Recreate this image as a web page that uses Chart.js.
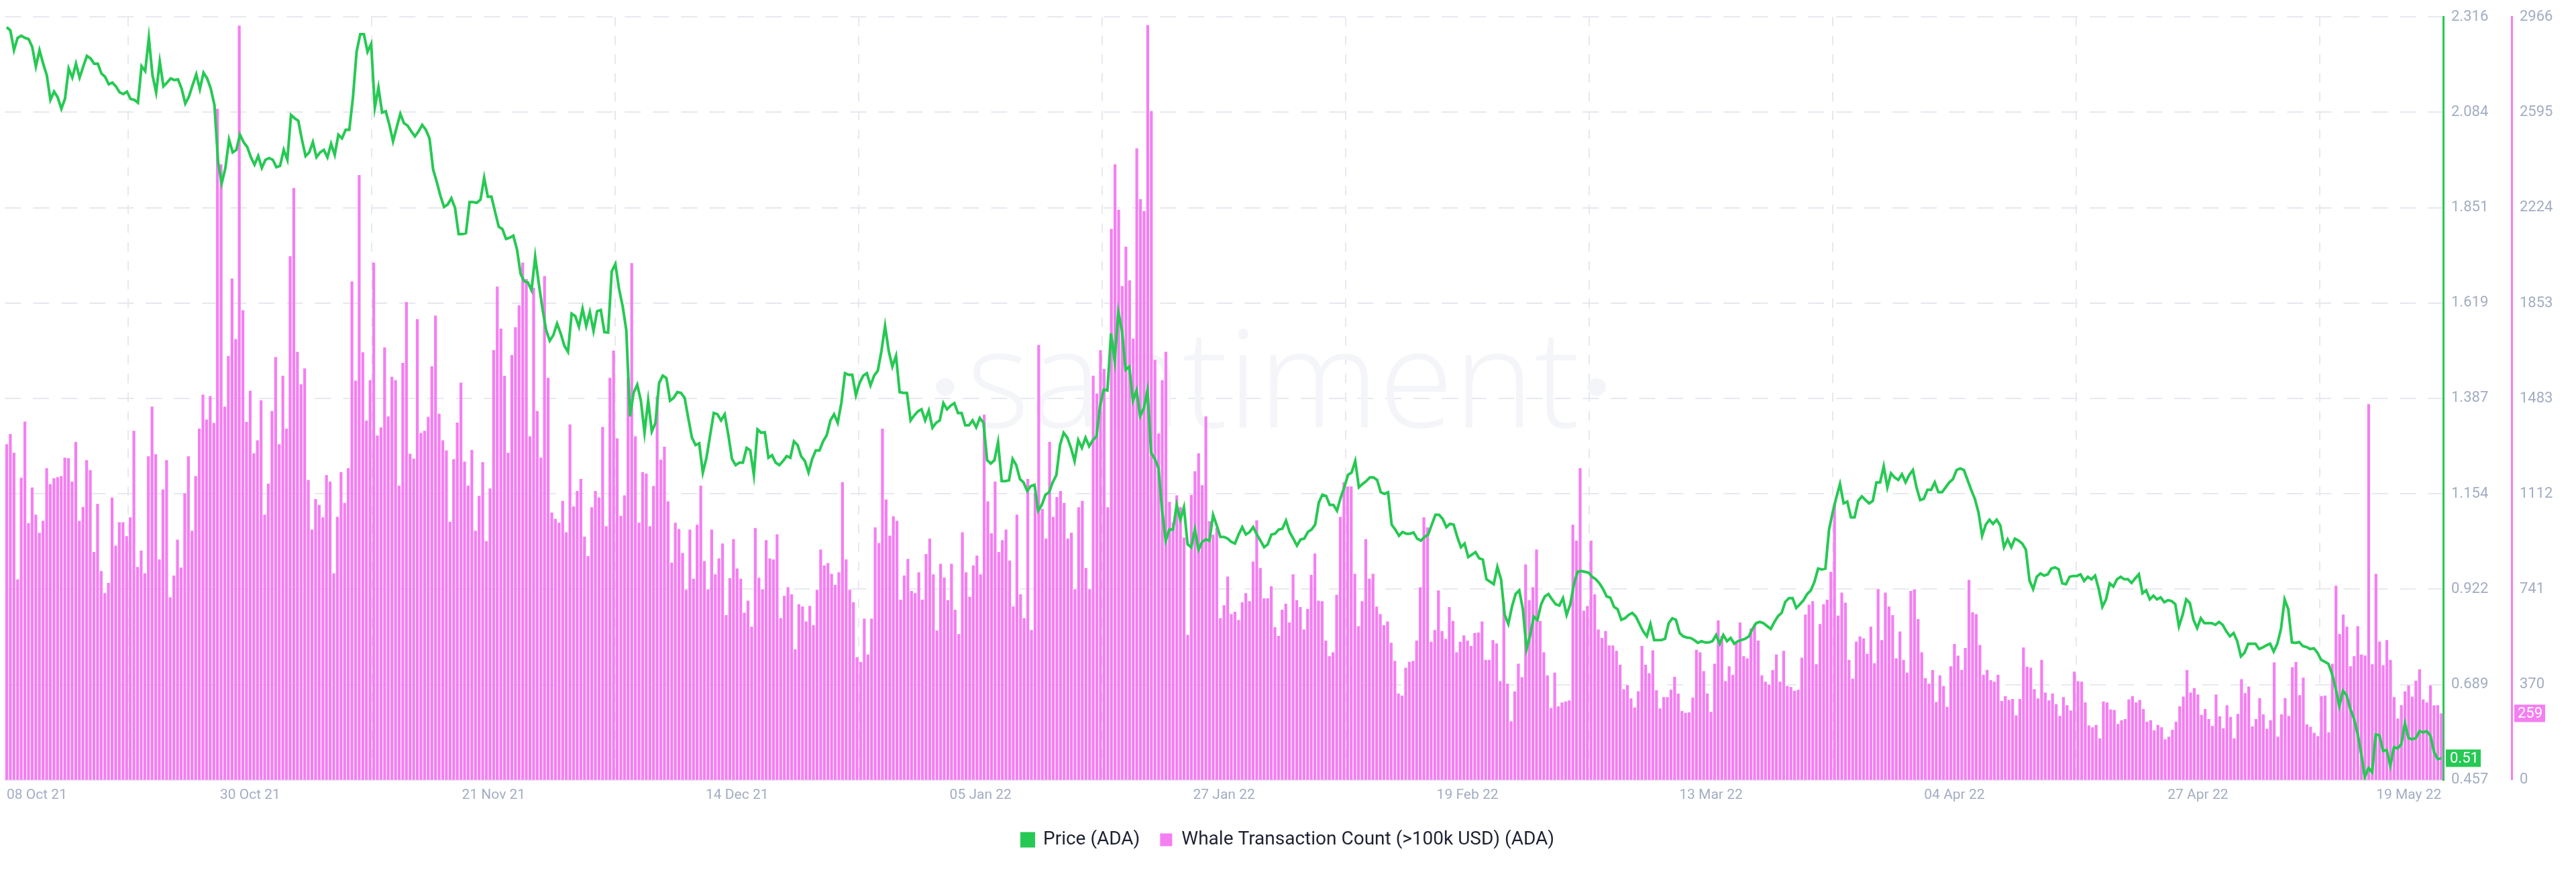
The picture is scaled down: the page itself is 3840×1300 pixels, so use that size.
<!DOCTYPE html>
<html><head><meta charset="utf-8">
<script src="https://cdn.jsdelivr.net/npm/chart.js@4"></script>
<style>html,body{margin:0;background:#fff}#wrap{width:3840px;height:1300px}</style>
</head><body><div id="wrap"><canvas id="c" width="3840" height="1300"></canvas></div>
<script>
const xTickLabels=["08 Oct 21","30 Oct 21","21 Nov 21","14 Dec 21","05 Jan 22","27 Jan 22","19 Feb 22","13 Mar 22","04 Apr 22","27 Apr 22","19 May 22"];
const priceTicks=[0.457,0.689,0.922,1.154,1.387,1.619,1.851,2.084,2.316];
const countTicks=[0,370,741,1112,1483,1853,2224,2595,2966];

const whaleA=[1305,1345,1272,780,1175,1393,998,1137,1031,961,1007,1212,1150,1173,1177,1181,1253,1251,1160,1314,1007,1061,1243,1204,886,1073,812,726,766,1098,911,1002,1002,948,1021,1357,828,892,803,1258,1451,1266,857,1129,1243,710,795,934,826,1114,1258,969,1181,1366,1498,1401,1492,1388,2609,2393,1451,1648,1949,1714,2932,1826,1392,1513,1270,1320,1476,1031,1152,1434,1644,1305,1571,1366,2036,2301,1664,1538,1600,1166,973,1092,1069,1021,1185,1160,803,1023,1197,1077,1212,1938,1552,2351,1662,1397,1554,2011,1339,1370,1681,1413,1567,1554,1144,1621,1858,1268,1249,1791,1349,1357,1411,1608,1805,1424,1320,1281,1004,1247,1389,1544,1237,1144,1283,969,1104,1235,928,1133,1671,1918,1754,1571];
const whaleB=[1272,1652,1760,1845,2011,1947,1336,1913,1434,1253,1959,1563,1040,1015,1000,1085,963,1382,1063,1123,1170,946,870,1060,1123,1098,1372,986,1563,1669,1328,1027,1106,1563,2009,1336,1000,1197,1191,986,1143,1492,1245,1295,1083,845,1000,975,882,739,973,782,992,1144,851,741,973,799,861,919,641,784,936,822,782,650,697,596,979,786,741,932,861,857,955,629,716,749,722,508,683,674,616,677,602,739,896,834,843,801,758,807,1158,857,739,691,477,459,627,488,627,982,921,1366,1090,950,1025,1007,701,795,859,735,726,807,701,878,938,799,581,840,787,699,840,662,567,963,807,712,834,872,799,1420,1083,959,1160,886,932,973];
const whaleC=[853,674,1031,722,629,1170,583,1114,1691,1054,938,1314,1023,1100,1123,1077,938,961,741,1060,1085,824,741,1571,1502,1671,1598,1060,2142,2393,2216,1920,2073,1942,1716,2455,2258,2212,2934,2600,1633,1347,1554,1664,1081,1000,1106,1061,942,564,1108,1200,1270,1146,1413,1006,953,980,629,679,791,645,654,622,691,726,695,849,1009,824,706,706,753,594,560,662,685,612,799,699,672,585,664,797,880,697,695,542,481,496,720,1023,1158,1141,1141,801,598,695,936,782,801,674,645,602,616,533,463,336,328,436,459,463,542,749,1021,982,537,583,737,579,548,672,618,496,537,562,542,521,571,573,616,467,467,544,531,384,691,374,228];
const whaleD=[344,452,400,838,699,749,896,618,496,407,280,417,286,301,305,309,992,930,1212,658,676,930,722,585,552,579,523,523,502,448,353,369,317,282,345,521,448,415,504,349,278,322,322,351,401,336,268,261,263,320,506,496,423,336,265,452,620,560,384,442,409,533,612,481,473,589,606,542,407,382,371,427,488,382,502,365,361,347,351,475,643,681,695,450,606,683,701,809,1077,639,728,689,467,394,538,558,550,490,596,454,741,544,728,674,641,473,577,467,417,735,741,625,496,396,374,427,303,407,365,284,442,529,483,428,513,778,652,645,525,409,428,388,382,409,307,326,311,315,251];
const whaleE=[315,515,440,436,353,317,467,340,309,336,295,249,322,291,270,421,384,382,301,212,205,214,162,305,301,274,272,218,232,237,313,326,301,311,276,226,232,193,214,205,158,168,195,226,286,324,427,340,357,332,253,276,237,210,332,247,201,290,245,162,257,392,338,363,208,237,318,255,199,232,457,168,255,318,249,438,459,330,398,216,207,183,170,326,328,185,452,755,567,643,596,442,481,598,488,484,1461,450,801,538,446,544,467,322,239,291,344,367,324,386,430,313,301,367,290,291,259];

const priceA=[2.291,2.283,2.235,2.265,2.270,2.265,2.262,2.243,2.195,2.235,2.202,2.174,2.114,2.134,2.120,2.092,2.117,2.190,2.168,2.202,2.168,2.195,2.221,2.215,2.202,2.202,2.178,2.170,2.152,2.156,2.146,2.132,2.128,2.134,2.116,2.114,2.107,2.196,2.184,2.265,2.174,2.132,2.207,2.147,2.156,2.166,2.162,2.164,2.141,2.105,2.122,2.150,2.176,2.140,2.180,2.166,2.141,2.101,1.962,1.911,1.948,2.017,1.986,1.992,2.029,2.011,1.999,1.974,1.956,1.977,1.948,1.968,1.972,1.968,1.950,1.953,1.992,1.968,2.077,2.069,2.063,2.017,1.977,1.986,2.011,1.974,1.986,1.992,1.974,2.007,1.980,2.029,2.020,2.041,2.041,2.120,2.231,2.274,2.274,2.231,2.250,2.095,2.144,2.083,2.086,2.053,2.013,2.047,2.080,2.057,2.051,2.037,2.025,2.037,2.053,2.041,2.020,1.944,1.914,1.880,1.853,1.859,1.874,1.851,1.787,1.787,1.789,1.865,1.865,1.863,1.871,1.924,1.878,1.878,1.841,1.805,1.799,1.775];
const priceB=[1.778,1.783,1.750,1.690,1.672,1.669,1.650,1.732,1.666,1.605,1.553,1.527,1.541,1.569,1.545,1.515,1.500,1.593,1.587,1.561,1.605,1.563,1.597,1.551,1.599,1.602,1.548,1.547,1.696,1.714,1.654,1.611,1.553,1.343,1.400,1.420,1.381,1.303,1.381,1.306,1.327,1.424,1.442,1.436,1.381,1.388,1.402,1.400,1.388,1.339,1.291,1.273,1.277,1.206,1.242,1.297,1.351,1.348,1.333,1.348,1.297,1.239,1.224,1.230,1.230,1.266,1.260,1.200,1.311,1.303,1.304,1.242,1.248,1.230,1.224,1.234,1.246,1.242,1.282,1.273,1.245,1.234,1.206,1.239,1.260,1.260,1.282,1.297,1.333,1.348,1.327,1.375,1.448,1.444,1.444,1.394,1.424,1.442,1.448,1.418,1.442,1.454,1.502,1.563,1.502,1.464,1.490,1.402,1.400,1.400,1.333,1.345,1.355,1.360,1.333,1.357,1.315,1.327,1.333,1.375,1.360,1.369,1.375,1.351,1.351,1.321,1.321,1.333,1.316,1.339,1.327,1.236,1.228,1.236,1.280,1.185,1.185,1.187];
const priceC=[1.239,1.224,1.190,1.182,1.161,1.173,1.176,1.113,1.127,1.152,1.158,1.182,1.200,1.273,1.303,1.291,1.266,1.234,1.285,1.266,1.291,1.270,1.285,1.294,1.369,1.408,1.406,1.545,1.478,1.597,1.551,1.456,1.464,1.381,1.406,1.343,1.363,1.406,1.254,1.239,1.218,1.115,1.040,1.067,1.067,1.127,1.091,1.121,1.031,1.024,1.067,1.018,1.037,1.043,1.040,1.103,1.077,1.049,1.049,1.045,1.037,1.033,1.055,1.073,1.055,1.061,1.073,1.055,1.040,1.024,1.031,1.055,1.057,1.067,1.069,1.089,1.061,1.045,1.028,1.043,1.045,1.061,1.067,1.079,1.133,1.152,1.149,1.127,1.127,1.113,1.145,1.170,1.200,1.206,1.234,1.170,1.178,1.185,1.194,1.194,1.188,1.158,1.154,1.158,1.079,1.067,1.052,1.061,1.057,1.057,1.060,1.045,1.040,1.049,1.055,1.079,1.103,1.103,1.093,1.073,1.081,1.079,1.049,1.024,1.033,1.000,1.006,1.012,0.997,0.994,0.946,0.940,0.934,0.976,0.946,0.859,0.837,0.879];
const priceD=[0.910,0.919,0.873,0.776,0.810,0.855,0.847,0.885,0.904,0.910,0.897,0.885,0.882,0.900,0.859,0.885,0.934,0.964,0.966,0.964,0.962,0.952,0.946,0.936,0.922,0.904,0.901,0.879,0.873,0.847,0.851,0.859,0.864,0.855,0.837,0.819,0.807,0.837,0.798,0.798,0.798,0.801,0.839,0.851,0.847,0.815,0.807,0.804,0.803,0.798,0.791,0.795,0.792,0.792,0.795,0.810,0.789,0.810,0.795,0.803,0.789,0.795,0.798,0.801,0.807,0.825,0.839,0.842,0.839,0.832,0.825,0.842,0.856,0.864,0.891,0.900,0.900,0.876,0.885,0.895,0.910,0.919,0.940,0.972,0.970,0.972,1.067,1.109,1.145,1.178,1.131,1.135,1.097,1.097,1.137,1.148,1.139,1.131,1.137,1.182,1.182,1.221,1.170,1.204,1.194,1.188,1.202,1.182,1.200,1.212,1.170,1.139,1.142,1.164,1.164,1.182,1.158,1.158,1.170,1.182,1.190,1.212,1.216,1.212,1.188,1.164,1.142,1.109,1.052,1.079,1.091,1.081,1.091,1.077,1.024,1.043,1.024,1.045];
const priceE=[1.040,1.033,1.018,0.943,0.922,0.952,0.960,0.955,0.958,0.972,0.975,0.970,0.936,0.934,0.952,0.954,0.954,0.958,0.942,0.952,0.946,0.955,0.922,0.879,0.897,0.936,0.928,0.946,0.952,0.946,0.946,0.937,0.948,0.958,0.912,0.919,0.897,0.906,0.897,0.902,0.890,0.895,0.893,0.885,0.831,0.859,0.897,0.888,0.847,0.827,0.851,0.839,0.839,0.839,0.835,0.842,0.835,0.819,0.807,0.815,0.795,0.758,0.767,0.789,0.789,0.789,0.776,0.780,0.785,0.789,0.770,0.789,0.825,0.897,0.873,0.792,0.791,0.793,0.783,0.781,0.776,0.778,0.767,0.750,0.745,0.740,0.716,0.680,0.637,0.674,0.664,0.631,0.607,0.571,0.522,0.464,0.486,0.476,0.568,0.566,0.528,0.530,0.492,0.537,0.534,0.544,0.595,0.559,0.556,0.559,0.576,0.573,0.576,0.565,0.525,0.508,0.510];

const whale=[].concat(whaleA,whaleB,whaleC,whaleD,whaleE);
const price=[].concat(priceA,priceB,priceC,priceD,priceE);
const nB=whale.length,nP=price.length;
const barData=whale.map((v,i)=>({x:i,y:v}));
const priceData=price.map((v,i)=>({x:i*(nB-1)/(nP-1),y:v}));

const GREEN='#26c953',PINK='#f47ef2',TICK='#a3acc3',GRID='#e7e8f0';

const decor={id:'decor',
 beforeDatasetsDraw(ch){const c=ch.ctx;c.save();
  c.fillStyle='#f4f5f9';
  let fs=240;c.font='300 '+fs+'px "Open Sans"';
  const w=c.measureText('santiment').width;fs=fs*915/w;c.font='300 '+fs+'px "Open Sans"';
  c.textBaseline='alphabetic';c.textAlign='left';c.fillText('santiment',1440,637);
  c.beginPath();c.ellipse(1409,577,14,13,0,0,Math.PI*2);c.fill();
  c.beginPath();c.ellipse(2380,577,14,13,0,0,Math.PI*2);c.fill();
  c.restore();},
 afterDraw(ch){const c=ch.ctx;c.save();
  const yP=ch.scales.yP,yC=ch.scales.yC;
  const pv=price[nP-1],cv=whale[nB-1];
  c.font='22px Roboto';c.textBaseline='middle';c.textAlign='left';
  let y=yP.getPixelForValue(pv);
  c.fillStyle=GREEN;c.fillRect(yP.left+4,y-13,52,26);
  c.fillStyle='#fff';c.fillText(pv.toFixed(2),yP.left+10,y+1);
  y=yC.getPixelForValue(cv);
  c.fillStyle=PINK;c.fillRect(yC.left+4,y-13,46,26);
  c.fillStyle='#fff';c.fillText(String(cv),yC.left+9,y+1);
  c.restore();}
};

new Chart(document.getElementById('c'),{
 data:{datasets:[
  {type:'line',label:'Price (ADA)',data:priceData,yAxisID:'yP',borderColor:GREEN,backgroundColor:GREEN,borderWidth:4,pointRadius:0,tension:0,order:0},
  {type:'bar',label:'Whale Transaction Count (>100k USD) (ADA)',data:barData,yAxisID:'yC',backgroundColor:PINK,borderWidth:0,barPercentage:0.78,categoryPercentage:1,order:1}
 ]},
 options:{responsive:false,animation:false,devicePixelRatio:1,
  layout:{padding:{top:4,left:0,right:0,bottom:24}},
  plugins:{tooltip:{enabled:false},
   legend:{position:'bottom',labels:{boxWidth:18,boxHeight:19,padding:30,color:'#1f2233',font:{size:28,family:'Roboto'}}}},
  scales:{
   x:{type:'linear',min:-0.5,max:nB-0.5,offset:false,
    afterBuildTicks(ax){ax.ticks=xTickLabels.map((l,i)=>({value:i*(nB-1)/(xTickLabels.length-1)}));},
    ticks:{callback:(v,i)=>xTickLabels[i],align:'inner',maxRotation:0,autoSkip:false,color:TICK,font:{size:21,family:'Roboto'},padding:10},
    grid:{color:GRID,lineWidth:2,drawTicks:false},border:{display:true,color:GRID,width:3,dash:[14,14]}},
   yP:{position:'right',min:0.457,max:2.316,
    afterBuildTicks(ax){ax.ticks=priceTicks.map(v=>({value:v}));},
    afterFit(s){s.width=102;},
    ticks:{callback:v=>v.toFixed(3),color:TICK,font:{size:22,family:'Roboto'},padding:12},
    grid:{color:GRID,lineWidth:2,drawTicks:false},border:{display:true,color:GREEN,width:3,dash:[24,18]}},
   yC:{position:'right',min:0,max:2966,
    afterBuildTicks(ax){ax.ticks=countTicks.map(v=>({value:v}));},
    afterFit(s){s.width=96;},
    ticks:{callback:v=>String(v),color:TICK,font:{size:22,family:'Roboto'},padding:12},
    grid:{display:false,drawTicks:false},border:{display:true,color:PINK,width:3}}
  }},
 plugins:[decor]
});
</script></body></html>
